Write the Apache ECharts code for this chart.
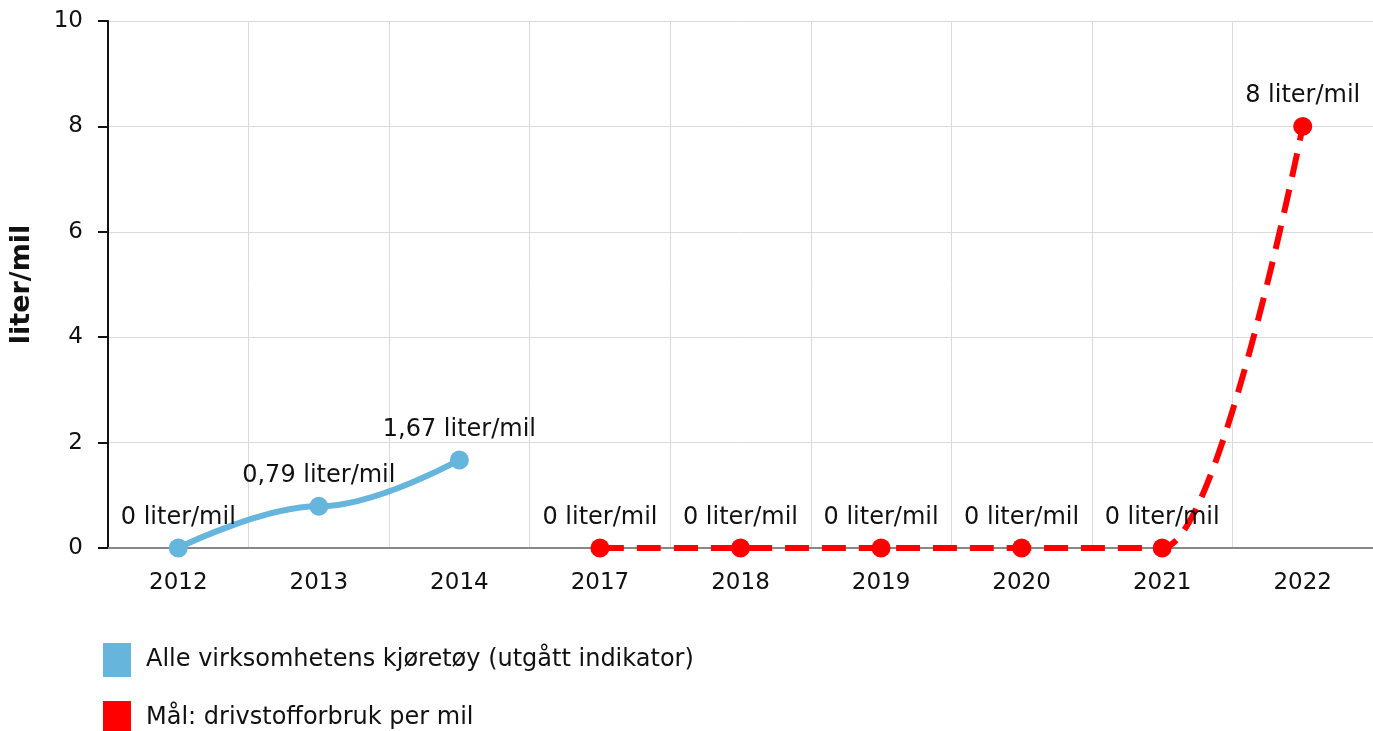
<!DOCTYPE html>
<html>
	<head>
		<title>liter/mil</title>
		<meta charset="utf-8"/>
		<style type="text/css">
			*{margin: 0;padding: 0;}
			html,body{height: 100%;background-color: #fff;}
			.chart{width: 1373px;height: 731px;}
		</style>
		<script type="text/javascript" src="https://cdn.jsdelivr.net/npm/echarts@6/dist/echarts.min.js"></script>
	</head>
	<body>
		<div class="chart js-chart"></div>
		<script type="text/javascript">
			var years=["2012","2013","2014","2017","2018","2019","2020","2021","2022"];
			var alleKjoretoy=[0,0.79,1.67,null,null,null,null,null,null];
			var maal=[null,null,null,0,0,0,0,0,8];
			var yTicks=[0,2,4,6,8,10];
			var navnA="Alle virksomhetens kjøretøy (utgått indikator)";
			var navnB="Mål: drivstofforbruk per mil";

			var font="DejaVu Sans, Verdana, sans-serif";
			function fmt(p){
				return String(p.value).replace(".",",")+" liter/mil";
			}
			// en legend per serie, under hverandre
			function legend(name,top){
				return {
					left:103,
					top:top,
					padding:0,
					itemWidth:28,
					itemHeight:34,
					icon:"rect",
					textStyle:{fontSize:24,color:"#111",fontFamily:font,padding:[0,0,0,10]},
					data:[name]
				};
			}
			var chart=echarts.init(document.querySelector(".js-chart"));
			chart.setOption({
				animation:false,
				textStyle:{fontFamily:font},
				grid:{left:106,top:21,right:-4,bottom:183},
				legend:[legend(navnA,643),legend(navnB,701)],
				xAxis:{
					type:"category",
					data:years,
					axisLine:{lineStyle:{color:"#888",width:2}},
					axisTick:{alignWithLabel:true,length:10,lineStyle:{color:"#999"}},
					axisLabel:{fontSize:23,color:"#111",margin:24},
					splitLine:{show:true,lineStyle:{color:"#dadada"}}
				},
				yAxis:{
					type:"value",
					min:yTicks[0],
					max:yTicks[yTicks.length-1],
					interval:2,
					name:"liter/mil",
					nameLocation:"middle",
					nameGap:73,
					nameTextStyle:{fontSize:27,fontWeight:"bold",color:"#111"},
					axisLine:{show:true,lineStyle:{color:"#111",width:2}},
					axisTick:{show:true,length:10,lineStyle:{color:"#111",width:2}},
					axisLabel:{fontSize:23,color:"#111",margin:25},
					splitLine:{lineStyle:{color:"#dadada"}}
				},
				series:[
					{
						name:navnA,
						type:"line",
						data:alleKjoretoy,
						smooth:0.4,
						smoothMonotone:"x",
						symbol:"circle",
						symbolSize:19,
						itemStyle:{color:"#66b5dc"},
						lineStyle:{color:"#66b5dc",width:6},
						label:{show:true,position:"top",distance:9,fontSize:24,color:"#111",formatter:fmt}
					},
					{
						name:navnB,
						type:"line",
						data:maal,
						smooth:0.4,
						smoothMonotone:"x",
						symbol:"circle",
						symbolSize:19,
						itemStyle:{color:"#ff0000"},
						lineStyle:{color:"#ff0000",width:6,type:[24,13]},
						label:{show:true,position:"top",distance:9,fontSize:24,color:"#111",formatter:fmt}
					}
				]
			});
		</script>
	</body>
</html>
